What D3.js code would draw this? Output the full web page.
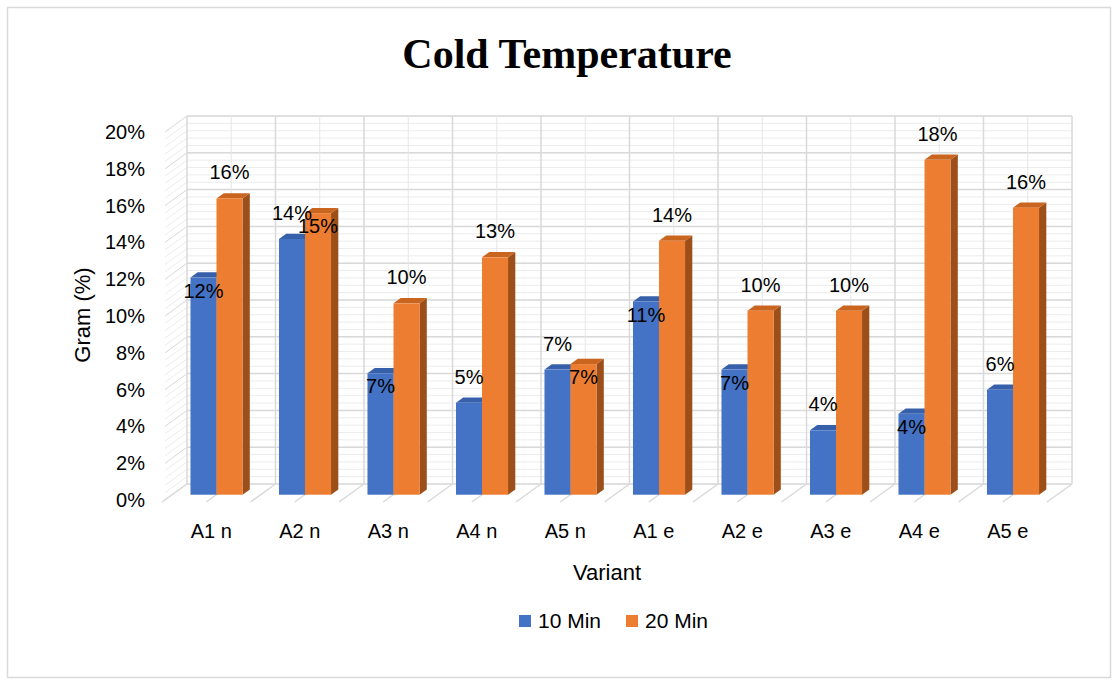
<!DOCTYPE html>
<html>
<head>
<meta charset="utf-8">
<script src="https://cdn.jsdelivr.net/npm/d3@7"></script>
<style>
  body { margin: 0; background: #fff; }
  svg text { font-family: "Liberation Sans", Arial, sans-serif; fill: #000; }
</style>
</head>
<body>
<svg id="chart" width="1118" height="681"></svg>
<script>
// values (percent)
const categories = ['A1 n', 'A2 n', 'A3 n', 'A4 n', 'A5 n', 'A1 e', 'A2 e', 'A3 e', 'A4 e', 'A5 e'];
const seriesNames = ['10 Min', '20 Min'];
const min10 = [11.8, 13.9, 6.6, 5.0, 6.8, 10.5, 6.8, 3.5, 4.4, 5.7];
const min20 = [16.1, 15.3, 10.4, 12.9, 7.1, 13.8, 10.0, 10.0, 18.2, 15.6];
const yTicks = [0, 2, 4, 6, 8, 10, 12, 14, 16, 18, 20];
// Excel put some labels inside the bar top instead of above it
const inside10 = [true, false, true, false, false, true, true, false, true, false];
const inside20 = [false, true, false, false, true, false, false, false, false, false];

const svg = d3.select('#chart');
const colors = {
    '10 Min': { front: '#4472c4', top: '#3760ab', side: '#2f5597' },
    '20 Min': { front: '#ed7d31', top: '#c9651f', side: '#9d4f1a' }
};

// front plane of the 3d box
const x = d3.scaleBand().domain(categories).range([165, 1050]).padding(0);
const y = d3.scaleLinear().domain([0, 20]).range([500, 132]);
const sub = d3.scaleBand().domain(seriesNames).range([0, x.bandwidth()]).paddingInner(0).paddingOuter(0.7);
const depth = { dx: 22, dy: -16 };   // full depth of the floor
const barNear = 0.33, barFar = 0.66; // bars sit in the middle of the depth

// outer border
svg.append('rect')
    .attr('x', 7.5).attr('y', 7.5)
    .attr('width', 1103).attr('height', 670)
    .attr('fill', 'none').attr('stroke', '#d9d9d9').attr('stroke-width', 1.5);

// title
svg.append('text')
    .attr('x', 567).attr('y', 68)
    .attr('text-anchor', 'middle')
    .style('font-family', '"Liberation Serif", "Times New Roman", serif')
    .style('font-weight', 'bold')
    .style('font-size', '42px')
    .text('Cold Temperature');

const grid = svg.append('g');
const minorTicks = d3.range(0, 20.001, 0.4);
const x0 = x.range()[0], x1 = x.range()[1];

// back wall, minor then major
grid.selectAll('.minor')
    .data(minorTicks)
    .join('line')
    .attr('x1', x0 + depth.dx).attr('x2', x1 + depth.dx)
    .attr('y1', d => y(d) + depth.dy).attr('y2', d => y(d) + depth.dy)
    .attr('stroke', '#ececec').attr('stroke-width', 1);

// left wall (diagonal hatch look)
grid.selectAll('.wall')
    .data(minorTicks)
    .join('line')
    .attr('x1', x0).attr('x2', x0 + depth.dx)
    .attr('y1', d => y(d)).attr('y2', d => y(d) + depth.dy)
    .attr('stroke', d => Math.abs(d / 2 - Math.round(d / 2)) < 1e-6 ? '#d9d9d9' : '#ececec')
    .attr('stroke-width', 1);

grid.selectAll('.major')
    .data(yTicks)
    .join('line')
    .attr('x1', x0 + depth.dx).attr('x2', x1 + depth.dx)
    .attr('y1', d => y(d) + depth.dy).attr('y2', d => y(d) + depth.dy)
    .attr('stroke', '#d9d9d9').attr('stroke-width', 1.5);

// vertical lines on the back wall and matching floor lines
const vLines = d3.range(0, categories.length * 2 + 1).map(i => x0 + i * x.bandwidth() / 2);
grid.selectAll('.vline')
    .data(vLines)
    .join('line')
    .attr('x1', d => d + depth.dx).attr('x2', d => d + depth.dx)
    .attr('y1', y(20) + depth.dy).attr('y2', y(0) + depth.dy)
    .attr('stroke', (d, i) => i % 2 === 0 ? '#d9d9d9' : '#e6e6e6')
    .attr('stroke-width', (d, i) => i % 2 === 0 ? 1.5 : 1);

grid.selectAll('.floor')
    .data(vLines)
    .join('line')
    .attr('x1', d => d - 3).attr('x2', d => d + depth.dx)
    .attr('y1', y(0) + 2).attr('y2', y(0) + depth.dy)
    .attr('stroke', '#d9d9d9').attr('stroke-width', 1.5);

// y axis tick labels
svg.append('g')
    .selectAll('text')
    .data(yTicks)
    .join('text')
    .attr('x', 145).attr('y', d => y(d))
    .attr('dy', '0.35em')
    .attr('text-anchor', 'end')
    .style('font-size', '20px')
    .text(d => d + '%');

// category labels
svg.append('g')
    .selectAll('text')
    .data(categories)
    .join('text')
    .attr('x', d => x(d) + x.bandwidth() / 2 + 2)
    .attr('y', 531)
    .attr('dy', '0.35em')
    .attr('text-anchor', 'middle')
    .style('font-size', '20px')
    .text(d => d);

// axis titles
svg.append('text')
    .attr('x', 607).attr('y', 572)
    .attr('dy', '0.35em')
    .attr('text-anchor', 'middle')
    .style('font-size', '22px')
    .text('Variant');

svg.append('text')
    .attr('transform', 'translate(82, 315) rotate(-90)')
    .attr('dy', '0.35em')
    .attr('text-anchor', 'middle')
    .style('font-size', '22px')
    .text('Gram (%)');

// 3d bars
const nx = depth.dx * barNear, ny = depth.dy * barNear;
const fx = depth.dx * barFar, fy = depth.dy * barFar;
const barData = [];
categories.forEach((c, i) => {
    [min10, min20].forEach((vals, s) => {
        barData.push({ cat: c, series: seriesNames[s], value: vals[i], inside: (s === 0 ? inside10 : inside20)[i] });
    });
});

const bars = svg.append('g')
    .selectAll('g')
    .data(barData)
    .join('g');

bars.each(function (d) {
    const g = d3.select(this);
    const left = x(d.cat) + sub(d.series) + nx;
    const right = left + sub.bandwidth();
    const top = y(d.value) + ny;
    const bottom = y(0) + ny;
    const ddx = fx - nx, ddy = fy - ny;
    const col = colors[d.series];
    // side
    g.append('path')
        .attr('d', `M${right},${top}L${right + ddx},${top + ddy}L${right + ddx},${bottom + ddy}L${right},${bottom}Z`)
        .attr('fill', col.side);
    // top
    g.append('path')
        .attr('d', `M${left},${top}L${left + ddx},${top + ddy}L${right + ddx},${top + ddy}L${right},${top}Z`)
        .attr('fill', col.top);
    // front
    g.append('rect')
        .attr('x', left).attr('y', top)
        .attr('width', sub.bandwidth()).attr('height', bottom - top)
        .attr('fill', col.front);
});

// data labels
svg.append('g')
    .selectAll('text')
    .data(barData)
    .join('text')
    .attr('x', d => x(d.cat) + sub(d.series) + nx + sub.bandwidth() / 2)
    .attr('y', d => y(d.value) + ny + (d.inside ? 13 : -26))
    .attr('dy', '0.35em')
    .attr('text-anchor', 'middle')
    .style('font-size', '20px')
    .text(d => Math.round(d.value) + '%');

// legend
const legend = svg.append('g')
    .selectAll('g')
    .data(seriesNames)
    .join('g')
    .attr('transform', (d, i) => `translate(${519 + i * 107}, 621)`);

legend.append('rect')
    .attr('x', 0).attr('y', -6)
    .attr('width', 12).attr('height', 12)
    .attr('fill', d => colors[d].front);

legend.append('text')
    .attr('x', 19).attr('y', 0)
    .attr('dy', '0.35em')
    .style('font-size', '21px')
    .text(d => d);
</script>
</body>
</html>
